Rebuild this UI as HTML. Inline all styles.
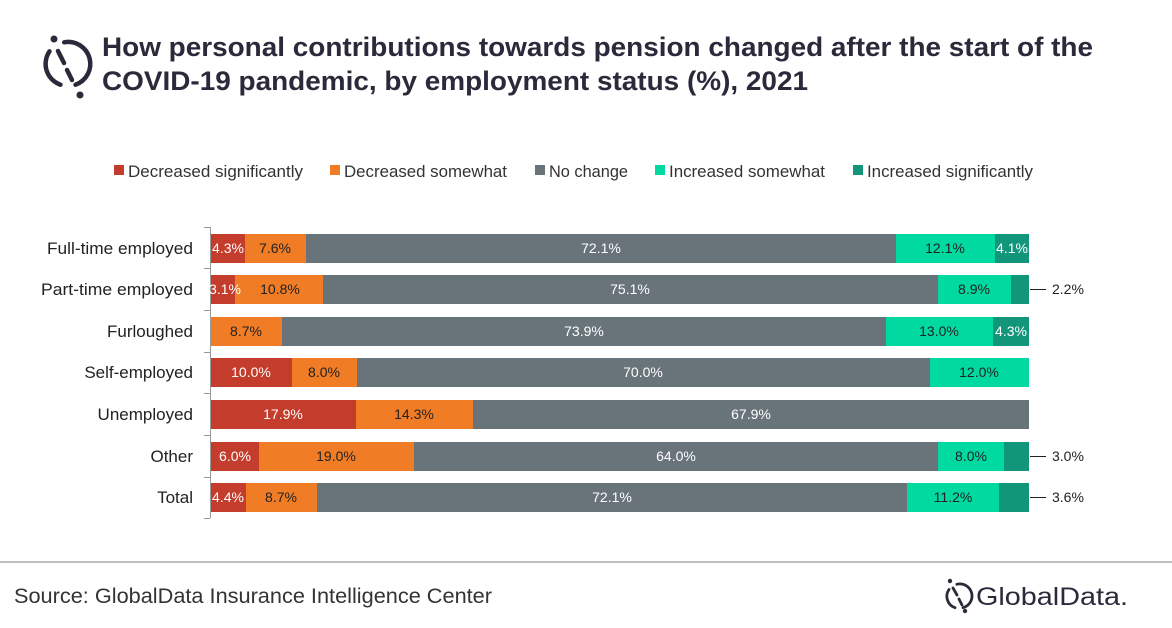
<!DOCTYPE html>
<html><head><meta charset="utf-8"><style>
body{margin:0;background:#fff;}
svg{display:block;font-family:"Liberation Sans",Calibri,sans-serif;}
</style></head><body>
<svg width="1172" height="628" viewBox="0 0 1172 628" xmlns="http://www.w3.org/2000/svg">
<rect width="1172" height="628" fill="#fff"/>
<!-- logo icon -->
<g fill="none" stroke="#2b2a3b" stroke-width="4.5" stroke-linecap="round">
<path d="M64.2 42.3 A22 22 0 0 1 75.5 84.7"/>
<path d="M60.5 84.7 A22 22 0 0 1 49.5 51.4"/>
<path d="M58 51 L64 63"/>
<path d="M67 70 L72 80"/>
</g>
<circle cx="54" cy="39" r="3.5" fill="#2b2a3b"/><circle cx="80" cy="95" r="3.5" fill="#2b2a3b"/>
<g font-weight="bold" font-size="27" fill="#2b2a3b">
<text x="102" y="56" textLength="991" lengthAdjust="spacingAndGlyphs">How personal contributions towards pension changed after the start of the</text>
<text x="102" y="90" textLength="706" lengthAdjust="spacingAndGlyphs">COVID-19 pandemic, by employment status (%), 2021</text>
</g>
<!-- legend -->
<g font-size="17" fill="#333">
<rect x="114" y="165" width="10" height="10" fill="#c43c2c"/><text x="128" y="177" textLength="175" lengthAdjust="spacingAndGlyphs">Decreased significantly</text>
<rect x="330" y="165" width="10" height="10" fill="#f07c25"/><text x="344" y="177" textLength="163" lengthAdjust="spacingAndGlyphs">Decreased somewhat</text>
<rect x="535" y="165" width="10" height="10" fill="#69737a"/><text x="549" y="177" textLength="79" lengthAdjust="spacingAndGlyphs">No change</text>
<rect x="655" y="165" width="10" height="10" fill="#00d9a0"/><text x="669" y="177" textLength="156" lengthAdjust="spacingAndGlyphs">Increased somewhat</text>
<rect x="853" y="165" width="10" height="10" fill="#12967a"/><text x="867" y="177" textLength="166" lengthAdjust="spacingAndGlyphs">Increased significantly</text>
</g>
<!-- axis -->
<g stroke="#999" stroke-width="1">
<line x1="210.5" y1="227" x2="210.5" y2="518"/>
<line x1="204" y1="227.5" x2="210" y2="227.5"/><line x1="204" y1="268.5" x2="210" y2="268.5"/>
<line x1="204" y1="310.5" x2="210" y2="310.5"/><line x1="204" y1="352.5" x2="210" y2="352.5"/>
<line x1="204" y1="393.5" x2="210" y2="393.5"/><line x1="204" y1="435.5" x2="210" y2="435.5"/>
<line x1="204" y1="477.5" x2="210" y2="477.5"/><line x1="204" y1="518.5" x2="210" y2="518.5"/>
</g>
<g font-size="17" fill="#222" text-anchor="end">
<text x="193" y="254" textLength="146" lengthAdjust="spacingAndGlyphs">Full-time employed</text>
<text x="193" y="295" textLength="152" lengthAdjust="spacingAndGlyphs">Part-time employed</text>
<text x="193" y="337">Furloughed</text>
<text x="193" y="378">Self-employed</text>
<text x="193" y="420">Unemployed</text>
<text x="193" y="462">Other</text>
<text x="193" y="503">Total</text>
</g>
<!-- bars -->
<g>
<rect x="211" y="234" width="34" height="29" fill="#c43c2c"/><rect x="245" y="234" width="61" height="29" fill="#f07c25"/>
<rect x="306" y="234" width="590" height="29" fill="#69737a"/><rect x="896" y="234" width="99" height="29" fill="#00d9a0"/><rect x="995" y="234" width="34" height="29" fill="#12967a"/>
<rect x="211" y="275" width="24" height="29" fill="#c43c2c"/><rect x="235" y="275" width="88" height="29" fill="#f07c25"/>
<rect x="323" y="275" width="615" height="29" fill="#69737a"/><rect x="938" y="275" width="73" height="29" fill="#00d9a0"/><rect x="1011" y="275" width="18" height="29" fill="#12967a"/>
<rect x="211" y="317" width="71" height="29" fill="#f07c25"/>
<rect x="282" y="317" width="604" height="29" fill="#69737a"/><rect x="886" y="317" width="107" height="29" fill="#00d9a0"/><rect x="993" y="317" width="36" height="29" fill="#12967a"/>
<rect x="211" y="358" width="81" height="29" fill="#c43c2c"/><rect x="292" y="358" width="65" height="29" fill="#f07c25"/>
<rect x="357" y="358" width="573" height="29" fill="#69737a"/><rect x="930" y="358" width="99" height="29" fill="#00d9a0"/>
<rect x="211" y="400" width="145" height="29" fill="#c43c2c"/><rect x="356" y="400" width="117" height="29" fill="#f07c25"/>
<rect x="473" y="400" width="556" height="29" fill="#69737a"/>
<rect x="211" y="442" width="48" height="29" fill="#c43c2c"/><rect x="259" y="442" width="155" height="29" fill="#f07c25"/>
<rect x="414" y="442" width="524" height="29" fill="#69737a"/><rect x="938" y="442" width="66" height="29" fill="#00d9a0"/><rect x="1004" y="442" width="25" height="29" fill="#12967a"/>
<rect x="211" y="483" width="35" height="29" fill="#c43c2c"/><rect x="246" y="483" width="71" height="29" fill="#f07c25"/>
<rect x="317" y="483" width="590" height="29" fill="#69737a"/><rect x="907" y="483" width="92" height="29" fill="#00d9a0"/><rect x="999" y="483" width="30" height="29" fill="#12967a"/>
</g>
<g font-size="14" text-anchor="middle">
<g fill="#fff">
<text x="228" y="253">4.3%</text><text x="601" y="253">72.1%</text><text x="1012" y="253">4.1%</text>
<text x="225" y="294">3.1%</text><text x="630" y="294">75.1%</text>
<text x="584" y="336">73.9%</text><text x="1011" y="336">4.3%</text>
<text x="251" y="377">10.0%</text><text x="643" y="377">70.0%</text>
<text x="283" y="419">17.9%</text><text x="751" y="419">67.9%</text>
<text x="235" y="461">6.0%</text><text x="676" y="461">64.0%</text>
<text x="228" y="502">4.4%</text><text x="612" y="502">72.1%</text>
</g>
<g fill="#222">
<text x="275" y="253">7.6%</text><text x="945" y="253">12.1%</text>
<text x="280" y="294">10.8%</text><text x="974" y="294">8.9%</text>
<text x="246" y="336">8.7%</text><text x="939" y="336">13.0%</text>
<text x="324" y="377">8.0%</text><text x="979" y="377">12.0%</text>
<text x="414" y="419">14.3%</text>
<text x="336" y="461">19.0%</text><text x="971" y="461">8.0%</text>
<text x="281" y="502">8.7%</text><text x="953" y="502">11.2%</text>
</g>
</g>
<g stroke="#222" stroke-width="1">
<line x1="1030" y1="289.5" x2="1046" y2="289.5"/><line x1="1030" y1="456.5" x2="1046" y2="456.5"/><line x1="1030" y1="497.5" x2="1046" y2="497.5"/>
</g>
<g font-size="14" fill="#222">
<text x="1052" y="294">2.2%</text><text x="1052" y="461">3.0%</text><text x="1052" y="502">3.6%</text>
</g>
<line x1="0" y1="562" x2="1172" y2="562" stroke="#aaa" stroke-width="1.5"/>
<text x="14" y="603" font-size="21" fill="#333" textLength="478" lengthAdjust="spacingAndGlyphs">Source: GlobalData Insurance Intelligence Center</text>
<!-- footer logo -->
<g fill="none" stroke="#2b2a3b" stroke-width="2.8" stroke-linecap="round">
<path d="M956.8 584.3 A12 12 0 0 1 963 607.7"/>
<path d="M955 607.7 A12 12 0 0 1 949 589.5"/>
<path d="M953 588 L957 595"/>
<path d="M959 599 L962 605"/>
</g>
<circle cx="950" cy="581" r="2.2" fill="#2b2a3b"/><circle cx="965" cy="611" r="2.2" fill="#2b2a3b"/>
<text x="976" y="605" font-size="25" fill="#2b2a3b" textLength="152" lengthAdjust="spacingAndGlyphs">GlobalData.</text>
</svg>
</body></html>
